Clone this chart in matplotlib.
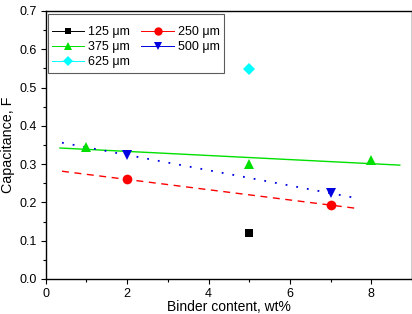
import numpy as np
import matplotlib.pyplot as plt
from matplotlib.lines import Line2D
from matplotlib.ticker import MultipleLocator

plt.rcParams['font.family'] = ['Liberation Sans', 'DejaVu Sans']

# data
x125 = [5]
y125 = [0.121]
x250 = [2, 7]
y250 = [0.260, 0.193]
x375 = [1, 5, 8]
y375 = [0.346, 0.300, 0.311]
x500 = [2, 7]
y500 = [0.324, 0.224]
x625 = [5]
y625 = [0.548]

labels = ["125 \u03bcm", "250 \u03bcm", "375 \u03bcm", "500 \u03bcm", "625 \u03bcm"]
colors = ["black", "red", "#00e000", "#0000e0", "#00ffff"]
markers = ["s", "o", "^", "v", "D"]
msizes = [6, 7, 7, 7, 6]

fig = plt.figure(figsize=(4.12, 3.14), dpi=100)
ax = fig.add_axes([0.111, 0.1115, 0.889, 0.8535])

series = [(x125, y125), (x250, y250), (x375, y375), (x500, y500), (x625, y625)]
for (xs, ys), c, m, ms in zip(series, colors, markers, msizes):
    ax.plot(xs, ys, linestyle='none', marker=m, color=c, markersize=ms,
            markeredgewidth=0, zorder=3)

# linear fits
fits = [(x250, y250, 0.4, 7.6, 'red', (0, (5, 4)), 1.0),
        (x375, y375, 0.35, 8.7, '#00e000', '-', 1.0),
        (x500, y500, 0.4, 7.6, '#0000e0', (0, (1, 5)), 1.3)]
for xs, ys, x0, x1, c, ls, lw in fits:
    k, b = np.polyfit(xs, ys, 1)
    xx = np.array([x0, x1])
    ax.plot(xx, k * xx + b, color=c, linestyle=ls, linewidth=lw, zorder=2)

ax.set_xlim(0, 9)
ax.set_ylim(0, 0.7)
ax.xaxis.set_major_locator(MultipleLocator(2))
ax.xaxis.set_minor_locator(MultipleLocator(1))
ax.yaxis.set_major_locator(MultipleLocator(0.1))
ax.yaxis.set_minor_locator(MultipleLocator(0.05))
ax.yaxis.set_major_formatter(plt.FormatStrFormatter('%.1f'))
ax.tick_params(which='major', direction='out', length=3.5, width=0.8,
               labelsize=9, pad=3)
ax.tick_params(which='minor', direction='out', length=2, width=0.8)
for sp in ax.spines.values():
    sp.set_linewidth(1.0)

ax.set_xlabel("Binder content, wt%", fontsize=10, labelpad=0)
ax.set_ylabel("Capacitance, F", fontsize=10.3, labelpad=3)

# legend filled row by row like the original
order = [0, 2, 4, 1, 3]
handles = [Line2D([], [], color=colors[i], marker=markers[i],
                  markersize=msizes[i] - 1, linewidth=0.7, markeredgewidth=0)
           for i in order]
leg = ax.legend(handles, [labels[i] for i in order], ncol=2, loc='upper left',
                bbox_to_anchor=(0.005, 0.99), borderaxespad=0,
                frameon=True, fancybox=False, edgecolor='#333333', fontsize=9,
                title=' ', title_fontsize=4,
                handlelength=2.6, handletextpad=0.3, columnspacing=0.9,
                labelspacing=0.25, borderpad=0.35)
leg.get_frame().set_linewidth(0.8)

fig.savefig("out.png", dpi=100)
